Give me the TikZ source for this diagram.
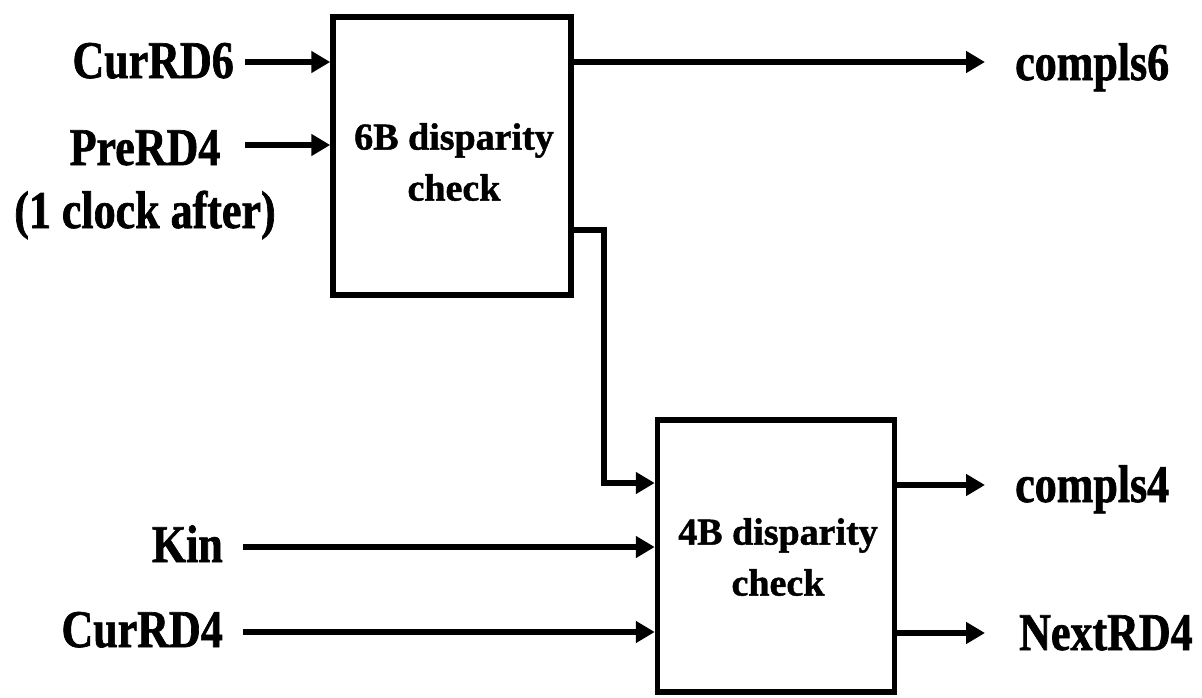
\documentclass[tikz,border=0pt]{standalone}
\usepackage{fontspec}
\setmainfont{Liberation Serif}
\newfontfamily\lblfont[FakeStretch=0.83,FakeBold=1.2]{Liberation Serif}
\newfontfamily\boxfont[FakeStretch=1.0,FakeBold=1.2]{Liberation Serif}
\usetikzlibrary{arrows.meta}
\begin{document}
\begin{tikzpicture}[x=1pt,y=-1pt,
  blk/.style={draw, line width=5.5pt, inner sep=0pt},
  btxt/.style={font=\boxfont\bfseries\fontsize{38}{51}\selectfont, align=center, inner sep=0pt},
  lbl/.style={font=\lblfont\bfseries\fontsize{53}{60}\selectfont, inner sep=0pt},
  arr/.style={line width=5.5pt, -{Triangle[length=19pt,width=21pt]}}]
\useasboundingbox (0,0) rectangle (1202,697);
\fill[white] (0,0) rectangle (1202,697);
% boxes
\node[blk, minimum width=238pt, minimum height=278pt] (b1) at (452,156) {};
\node[btxt, anchor=north] (b1t) at (454,123) {6B disparity\\check};
\node[blk, minimum width=237pt, minimum height=272pt] (b2) at (776,556) {};
\node[btxt, anchor=north] (b2t) at (778,518) {4B disparity\\check};
% labels
\node[lbl, anchor=base east] (lcur6) at (234,78) {CurRD6};
\node[lbl, anchor=base] (lpre4) at (145,165) {PreRD4};
\node[lbl, anchor=base] (lclk) at (145,228) {(1 clock after)};
\node[lbl, anchor=base east] (lkin) at (223,562) {Kin};
\node[lbl, anchor=base east] (lcur4) at (223,647) {CurRD4};
\node[lbl, anchor=base west] (lc6) at (1015,80) {compls6};
\node[lbl, anchor=base west] (lc4) at (1015,502) {compls4};
\node[lbl, anchor=base west] (lnext) at (1019,650) {NextRD4};
% connector end points
\coordinate (s1) at (245,62);
\coordinate (s2) at (245,145);
\coordinate (s3) at (243,547);
\coordinate (s4) at (243,632);
\coordinate (e1) at (985,62);
\coordinate (e2) at (985,485);
\coordinate (e3) at (985,633);
\coordinate (br) at (604,230);
\coordinate (jn) at (604,483);
% connectors
\draw[arr] (s1) -- (s1 -| b1.west);
\draw[arr] (s2) -- (s2 -| b1.west);
\draw[arr] (e1 -| b1.east) -- (e1);
\draw[arr] (br -| b1.east) -- (br) -- (jn) -- (jn -| b2.west);
\draw[arr] (s3) -- (s3 -| b2.west);
\draw[arr] (s4) -- (s4 -| b2.west);
\draw[arr] (e2 -| b2.east) -- (e2);
\draw[arr] (e3 -| b2.east) -- (e3);
\end{tikzpicture}
\end{document}
